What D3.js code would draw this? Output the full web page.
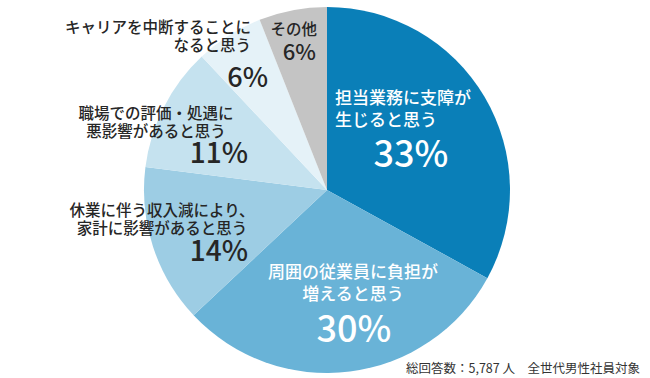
<!DOCTYPE html>
<html>
<head>
<meta charset="utf-8">
<script src="https://cdn.jsdelivr.net/npm/d3@7"></script>
<style>
    body { margin: 0; background: #fff; }
    svg { display: block; }
    text { font-family: "Noto Sans CJK JP", "Noto Sans", sans-serif; }
</style>
</head>
<body>
<div id="chart"></div>
<script>
// slices, clockwise from 12 o'clock
const categories = ["業務支障", "周囲負担", "収入減", "評価・処遇", "キャリア中断", "その他"];
const values = [33, 30, 14, 11, 6, 6];
const labelLines = [
    ["担当業務に支障が", "生じると思う"],
    ["周囲の従業員に負担が", "増えると思う"],
    ["休業に伴う収入減により、", "家計に影響があると思う"],
    ["職場での評価・処遇に", "悪影響があると思う"],
    ["キャリアを中断することに", "なると思う"],
    ["その他"]
];
const colors = ["#0a7fb8", "#69b3d7", "#9dcde4", "#c5e2ef", "#e5f2f8", "#c4c4c4"];
const note = "総回答数：5,787 人　全世代男性社員対象";

const width = 650, height = 378;
const cx = 327, cy = 190, radius = 183;

// label placement for each slice (layout only)
const layout = [
    {x: 335, y: 104, lh: 22, anchor: "start",  size: 17,   fill: "#fff",
     px: 411, py: 167, panchor: "middle", psize: 36},
    {x: 353, y: 278, lh: 22, anchor: "middle", size: 17,   fill: "#fff",
     px: 354, py: 342, panchor: "middle", psize: 36},
    {x: 162, y: 216, lh: 18, anchor: "middle", size: 15.5, fill: "#262626",
     px: 248, py: 261, panchor: "end", psize: 28},
    {x: 156, y: 119, lh: 17.5, anchor: "middle", size: 15.5, fill: "#262626",
     px: 248, py: 163, panchor: "end", psize: 28},
    {x: 251, y: 33, lh: 18, anchor: "end", size: 15.5, fill: "#262626",
     px: 268, py: 87, panchor: "end", psize: 27},
    {x: 317, y: 35, lh: 18, anchor: "end", size: 15.5, fill: "#262626",
     px: 316, py: 60, panchor: "end", psize: 22}
];

const data = categories.map((c, i) => ({name: c, value: values[i], lines: labelLines[i], color: colors[i], lay: layout[i]}));

const svg = d3.select("#chart").append("svg")
    .attr("width", width)
    .attr("height", height);

const pie = d3.pie().sort(null).value(d => d.value);
const arc = d3.arc().innerRadius(0).outerRadius(radius);

const g = svg.append("g")
    .attr("transform", "translate(" + cx + "," + cy + ")");

g.selectAll("path")
    .data(pie(data))
    .enter()
    .append("path")
    .attr("d", arc)
    .attr("fill", d => d.data.color);

// one text per slice: label lines + percentage as tspans
const labels = svg.selectAll(".label")
    .data(data)
    .enter()
    .append("text")
    .attr("class", "label")
    .attr("fill", d => d.lay.fill)
    .style("font-weight", 500);

labels.each(function(d) {
    const sel = d3.select(this);
    const L = d.lay;
    d.lines.forEach((t, j) => {
        sel.append("tspan")
            .attr("x", L.x)
            .attr("y", L.y + j * L.lh)
            .attr("text-anchor", L.anchor)
            .style("font-size", L.size + "px")
            .text(t);
    });
    sel.append("tspan")
        .attr("x", L.px)
        .attr("y", L.py)
        .attr("text-anchor", L.panchor)
        .style("font-size", L.psize + "px")
        .text(d.value + "%");
});

svg.append("text")
    .attr("x", 640)
    .attr("y", 373)
    .attr("text-anchor", "end")
    .attr("fill", "#333")
    .style("font-size", "12.5px")
    .text(note);
</script>
</body>
</html>
